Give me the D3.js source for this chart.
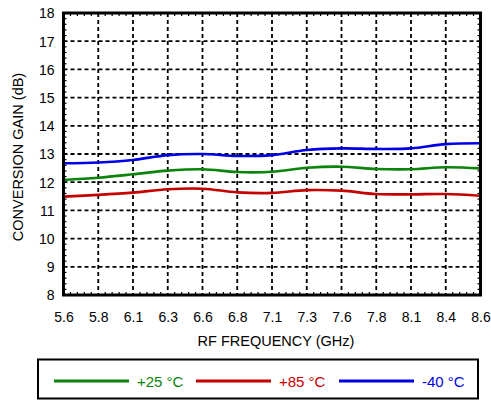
<!DOCTYPE html>
<html><head><meta charset="utf-8">
<script src="https://cdn.jsdelivr.net/npm/d3@7"></script>
<style>body{margin:0;background:#fff;font-family:"Liberation Sans",Arial,sans-serif}</style>
</head><body>
<svg id="c" width="491" height="400"></svg>
<script>
const freqs = [5.6,5.85,6.1,6.35,6.6,6.85,7.1,7.35,7.6,7.85,8.1,8.35,8.6];
const xTickLabels = ["5.6","5.8","6.1","6.3","6.6","6.8","7.1","7.3","7.6","7.8","8.1","8.4","8.6"];
const yTicks = [8,9,10,11,12,13,14,15,16,17,18];
const gain25 = [12.08,12.16,12.28,12.41,12.46,12.36,12.37,12.51,12.55,12.47,12.46,12.53,12.49];
const gain85 = [11.49,11.55,11.63,11.75,11.77,11.64,11.62,11.72,11.70,11.58,11.57,11.58,11.52];
const gainM40 = [12.67,12.70,12.79,12.96,13.00,12.93,12.96,13.14,13.20,13.18,13.20,13.35,13.38];
const seriesNames = ["+25 °C","+85 °C","-40 °C"];
const seriesColors = ["#0a840a","#c40000","#0000e6"];
const seriesData = [gain25, gain85, gainM40];

const svg = d3.select("#c");
const L=63.5, R=480.5, T=13, B=295;
const x = d3.scaleLinear().domain([5.6,8.6]).range([L,R]);
const y = d3.scaleLinear().domain([8,18]).range([B,T]);
const FONT = "Liberation Sans, Arial, sans-serif";

// grid
const g = svg.append("g");
g.selectAll("line.vg").data(freqs.slice(1,-1)).enter().append("line")
 .attr("x1",d=>x(d)).attr("x2",d=>x(d)).attr("y1",T).attr("y2",B)
 .attr("stroke","#000").attr("stroke-width",1.8).attr("stroke-dasharray","4,3");
g.selectAll("line.hg").data(yTicks.slice(1,-1)).enter().append("line")
 .attr("x1",L).attr("x2",R).attr("y1",d=>y(d)).attr("y2",d=>y(d))
 .attr("stroke","#000").attr("stroke-width",1.8).attr("stroke-dasharray","4,3");

// minor ticks
const minorX=[]; for(let i=0;i<freqs.length-1;i++){for(let k=1;k<5;k++)minorX.push(freqs[i]+k*(freqs[i+1]-freqs[i])/5);}
const minorY=[]; for(let i=0;i<yTicks.length-1;i++){for(let k=1;k<5;k++)minorY.push(yTicks[i]+k*0.2);}
g.selectAll("line.mxt").data(minorX).enter().append("line")
 .attr("x1",d=>x(d)).attr("x2",d=>x(d)).attr("y1",T).attr("y2",T+3).attr("stroke","#000").attr("stroke-width",1.2);
g.selectAll("line.mxb").data(minorX).enter().append("line")
 .attr("x1",d=>x(d)).attr("x2",d=>x(d)).attr("y1",B).attr("y2",B-3).attr("stroke","#000").attr("stroke-width",1.2);
g.selectAll("line.myl").data(minorY).enter().append("line")
 .attr("x1",L).attr("x2",L+3).attr("y1",d=>y(d)).attr("y2",d=>y(d)).attr("stroke","#000").attr("stroke-width",1.2);
g.selectAll("line.myr").data(minorY).enter().append("line")
 .attr("x1",R).attr("x2",R-3).attr("y1",d=>y(d)).attr("y2",d=>y(d)).attr("stroke","#000").attr("stroke-width",1.2);

// lines
const line = d3.line().x((d,i)=>x(freqs[i])).y(d=>y(d)).curve(d3.curveCatmullRom.alpha(0.5));
seriesData.forEach((s,i)=>{
  svg.append("path").datum(s).attr("d",line).attr("fill","none")
   .attr("stroke",seriesColors[i]).attr("stroke-width",2.6);
});

// frame
svg.append("rect").attr("x",L).attr("y",T).attr("width",R-L).attr("height",B-T)
 .attr("fill","none").attr("stroke","#000").attr("stroke-width",3);

// axes labels
const xAxis = d3.axisBottom(x).tickValues(freqs).tickFormat((d,i)=>xTickLabels[i]).tickSize(0).tickPadding(0);
const xa = svg.append("g").attr("transform",`translate(0,${B})`).call(xAxis);
xa.select(".domain").remove();
xa.selectAll("text").attr("y",27).attr("dy",0).attr("font-size",14).attr("font-family",FONT).attr("fill","#000");

const yAxis = d3.axisLeft(y).tickValues(yTicks).tickFormat(d3.format("d")).tickSize(0).tickPadding(0);
const ya = svg.append("g").attr("transform",`translate(${L},0)`).call(yAxis);
ya.select(".domain").remove();
ya.selectAll("text").attr("x",-9).attr("dy","0.35em").attr("font-size",14).attr("font-family",FONT).attr("fill","#000");

svg.append("text").attr("x",(L+R)/2+4).attr("y",346).attr("text-anchor","middle")
 .attr("font-size",14.5).attr("font-family",FONT).text("RF FREQUENCY (GHz)");
svg.append("text").attr("transform",`translate(23,${(T+B)/2+3}) rotate(-90)`).attr("text-anchor","middle")
 .attr("font-size",14.5).attr("font-family",FONT).text("CONVERSION GAIN (dB)");

// legend
svg.append("rect").attr("x",38).attr("y",359.5).attr("width",440).attr("height",39)
 .attr("fill","none").attr("stroke","#000").attr("stroke-width",2);
const legX=[54,196,339];
seriesNames.forEach((n,i)=>{
  svg.append("line").attr("x1",legX[i]).attr("x2",legX[i]+75).attr("y1",381).attr("y2",381)
   .attr("stroke",seriesColors[i]).attr("stroke-width",3);
  svg.append("text").attr("x",legX[i]+83).attr("y",386.5).attr("font-size",15).attr("font-family",FONT)
   .attr("fill",seriesColors[i]).text(n);
});
</script>
</body></html>
